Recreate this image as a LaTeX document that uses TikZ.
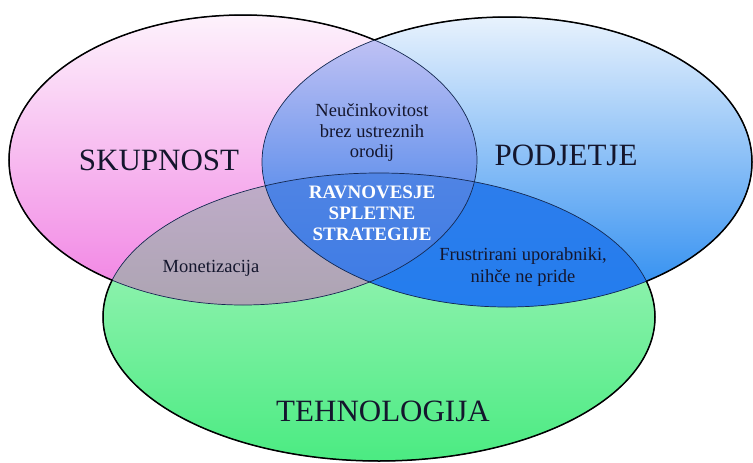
\documentclass[tikz,border=0pt]{standalone}
\usepackage{fontspec}
\setmainfont{Liberation Serif}
\definecolor{pinkTop}{RGB}{253,242,252}
\definecolor{pinkBot}{RGB}{241,128,227}
\definecolor{blueTop}{RGB}{232,242,253}
\definecolor{blueBot}{RGB}{40,138,240}
\definecolor{greenTop}{RGB}{175,245,195}
\definecolor{greenBot}{RGB}{75,235,130}
\definecolor{pbTop}{RGB}{205,200,245}
\definecolor{pbBot}{RGB}{30,110,230}
\definecolor{pgTop}{RGB}{192,172,202}
\definecolor{pgBot}{RGB}{150,155,150}
\definecolor{bgTop}{RGB}{45,125,236}
\definecolor{bgBot}{RGB}{25,125,240}
\definecolor{pbgTop}{RGB}{80,132,228}
\definecolor{pbgBot}{RGB}{35,112,230}
\definecolor{txt}{RGB}{20,22,45}
\definecolor{innerline}{RGB}{20,40,80}
\tikzset{
  bigtxt/.style={font=\fontsize{31}{34}\selectfont, text=txt, inner sep=0pt},
  smalltxt/.style={font=\fontsize{18.5}{20.5}\selectfont, text=txt, align=center, inner sep=0pt},
  centertxt/.style={font=\fontsize{19}{21}\selectfont\bfseries, text=white, align=center, inner sep=0pt},
  thinline/.style={draw=innerline, line width=0.7pt},
  outline/.style={draw=black, line width=1.5pt}
}
\newcommand{\pinkE}{(243,160) ellipse [x radius=234, y radius=145]}
\newcommand{\blueE}{(507,162) ellipse [x radius=245, y radius=145]}
\newcommand{\greenE}{(379,317) ellipse [x radius=276, y radius=144]}
\newcommand{\frameR}{(-10,-10) rectangle (763,473)}
\begin{document}
\begin{tikzpicture}[x=1pt,y=-1pt]
\useasboundingbox (0,0) rectangle (753,463);
% base ellipses
\path[top color=greenTop, bottom color=greenBot] \greenE;
\path[top color=pinkTop, bottom color=pinkBot] \pinkE;
\path[top color=blueTop, bottom color=blueBot] \blueE;
% pink & blue
\begin{scope}
  \clip \pinkE;
  \path[top color=pbTop, bottom color=pbBot] \blueE;
\end{scope}
% pink & green
\begin{scope}
  \clip \pinkE;
  \path[top color=pgTop, bottom color=pgBot] \greenE;
\end{scope}
% blue & green
\begin{scope}
  \clip \blueE;
  \path[top color=bgTop, bottom color=bgBot] \greenE;
\end{scope}
% all three
\begin{scope}
  \clip \pinkE;
  \clip \blueE;
  \path[top color=pbgTop, bottom color=pbgBot] \greenE;
\end{scope}
% thin inner outlines
\draw[thinline] \greenE;
\draw[thinline] \pinkE;
\draw[thinline] \blueE;
% thick outer outlines
\begin{scope}[even odd rule]
  \clip \frameR \blueE;
  \clip \frameR \greenE;
  \draw[outline] \pinkE;
\end{scope}
\begin{scope}[even odd rule]
  \clip \frameR \pinkE;
  \clip \frameR \greenE;
  \draw[outline] \blueE;
\end{scope}
\begin{scope}[even odd rule]
  \clip \frameR \pinkE;
  \clip \frameR \blueE;
  \draw[outline] \greenE;
\end{scope}
% labels
\node[bigtxt] (skup) at (159,160) {SKUPNOST};
\node[bigtxt] (podj) at (566,155) {PODJETJE};
\node[bigtxt] (tehn) at (383,411) {TEHNOLOGIJA};
\node[smalltxt] (neuc) at (372,133) {Neučinkovitost\\brez ustreznih\\orodij};
\node[centertxt] (ravn) at (372,213) {RAVNOVESJE\\SPLETNE\\STRATEGIJE};
\node[smalltxt] (mone) at (211,268) {Monetizacija};
\node[smalltxt, font=\fontsize{18.5}{22}\selectfont] (frus) at (523,267) {Frustrirani uporabniki,\\nihče ne pride};
\end{tikzpicture}
\end{document}
